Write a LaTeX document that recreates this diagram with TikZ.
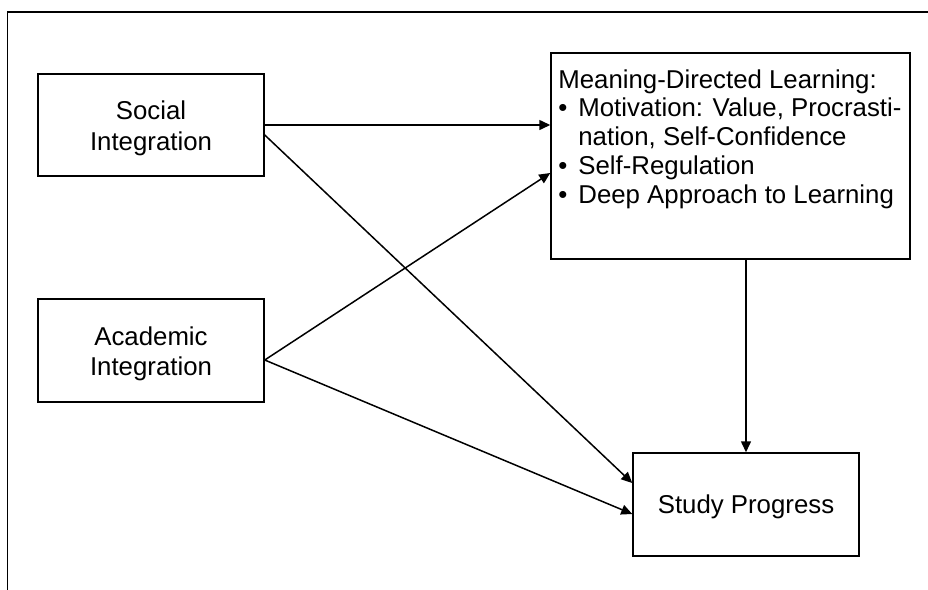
\documentclass[tikz,border=0pt]{standalone}
\usepackage{fontspec}
\setmainfont{Liberation Sans}
\usetikzlibrary{arrows.meta,calc}
\newcommand{\twolines}[2]{\raisebox{-2pt}[\height][\depth]{\begin{tabular}{@{}c@{}}#1\\#2\end{tabular}}}
\begin{document}
\begin{tikzpicture}[x=0.5pt,y=-0.5pt,
  box/.style={draw,line width=0.75pt,inner sep=0pt,align=center,
    font=\fontsize{12.9}{15.1}\selectfont},
  arr/.style={line width=0.75pt,-{Triangle[length=5.5pt,width=5pt]}}]
\useasboundingbox (0,0) rectangle (928,590);
\draw[line width=0.75pt] (7.5,590) -- (7.5,12) -- (928,12);
\node[box,minimum width=113pt,minimum height=51pt] (soc) at (151,125) {\twolines{Social}{Integration}};
\node[box,minimum width=113pt,minimum height=51.5pt] (aca) at (151,350.5) {\twolines{Academic}{Integration}};
\node[box,minimum width=179.5pt,minimum height=103pt] (mdl) at (730.5,156) {};
\node[anchor=north west,inner sep=0pt,align=left,font=\fontsize{12.9}{14.4}\selectfont] (mdltext) at (558,69)
  {Meaning-Directed Learning:\\
   \makebox[10pt][l]{•}Motivation: Value, Procrasti-\\
   \hspace*{10pt}nation, Self-Confidence\\
   \makebox[10pt][l]{•}Self-Regulation\\
   \makebox[10pt][l]{•}Deep Approach to Learning};
\node[box,minimum width=113pt,minimum height=51.5pt] (sp) at (746,504.5) {\raisebox{-1pt}[\height][\depth]{Study Progress}};
\draw[arr] (soc.east) -- (mdl.west |- soc.east);
\draw[arr] ($(soc.east)+(0,10)$) -- ($(sp.west)+(0,-21.5)$);
\draw[arr] ($(aca.east)+(0,9.5)$) -- ($(mdl.west)+(0,17)$);
\draw[arr] ($(aca.east)+(0,9.5)$) -- ($(sp.west)+(0,9.5)$);
\draw[arr] (mdl.south -| sp.north) -- (sp.north);
\end{tikzpicture}
\end{document}
